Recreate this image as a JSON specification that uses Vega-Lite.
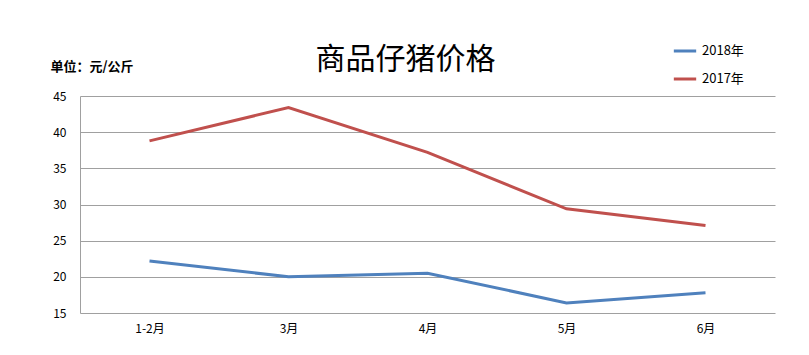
{
  "$schema": "https://vega.github.io/schema/vega-lite/v6.json",
  "width": 695,
  "height": 217,
  "autosize": {"type": "none"},
  "padding": {"left": 80, "top": 96, "right": 34, "bottom": 42},
  "background": "white",
  "config": {
    "font": "Noto Sans CJK SC",
    "view": {"stroke": null}
  },
  "title": {
    "text": "商品仔猪价格",
    "fontSize": 30,
    "fontWeight": "normal",
    "font": "Noto Sans CJK SC",
    "color": "#000000",
    "anchor": "middle",
    "dx": -22,
    "offset": -37
  },
  "data": {
    "values": [
      {"month": "1-2月", "series": "2018年", "price": 22.2},
      {"month": "3月", "series": "2018年", "price": 20.0},
      {"month": "4月", "series": "2018年", "price": 20.5},
      {"month": "5月", "series": "2018年", "price": 16.4},
      {"month": "6月", "series": "2018年", "price": 17.8},
      {"month": "1-2月", "series": "2017年", "price": 38.8},
      {"month": "3月", "series": "2017年", "price": 43.4},
      {"month": "4月", "series": "2017年", "price": 37.2},
      {"month": "5月", "series": "2017年", "price": 29.4},
      {"month": "6月", "series": "2017年", "price": 27.1}
    ]
  },
  "mark": {"type": "line", "strokeWidth": 3},
  "encoding": {
    "x": {
      "field": "month",
      "type": "ordinal",
      "sort": ["1-2月", "3月", "4月", "5月", "6月"],
      "scale": {"type": "point", "padding": 0.5},
      "axis": {
        "title": null,
        "labelAngle": 0,
        "labelFontSize": 12,
        "labelColor": "#000000",
        "labelPadding": 10,
        "ticks": false,
        "domain": false,
        "grid": false
      }
    },
    "y": {
      "field": "price",
      "type": "quantitative",
      "scale": {"domain": [15, 45], "nice": false, "zero": false},
      "axis": {
        "values": [15, 20, 25, 30, 35, 40, 45],
        "title": "单位：元/公斤",
        "titleAngle": 0,
        "titleAlign": "left",
        "titleBaseline": "alphabetic",
        "titleX": -30,
        "titleY": -26,
        "titleFontSize": 13,
        "titleFontWeight": "bold",
        "titleColor": "#000000",
        "labelFontSize": 12,
        "labelColor": "#000000",
        "labelPadding": 14,
        "ticks": false,
        "domain": true,
        "domainColor": "#a0a0a0",
        "grid": true,
        "gridColor": "#a0a0a0",
        "gridOpacity": 1
      }
    },
    "color": {
      "field": "series",
      "type": "nominal",
      "sort": ["2018年", "2017年"],
      "scale": {"domain": ["2018年", "2017年"], "range": ["#4F81BD", "#C0504D"]},
      "legend": {
        "title": null,
        "orient": "none",
        "legendX": 592,
        "legendY": -58,
        "symbolType": "stroke",
        "symbolSize": 500,
        "symbolStrokeWidth": 3,
        "labelFontSize": 13,
        "labelColor": "#000000",
        "rowPadding": 8
      }
    }
  }
}
